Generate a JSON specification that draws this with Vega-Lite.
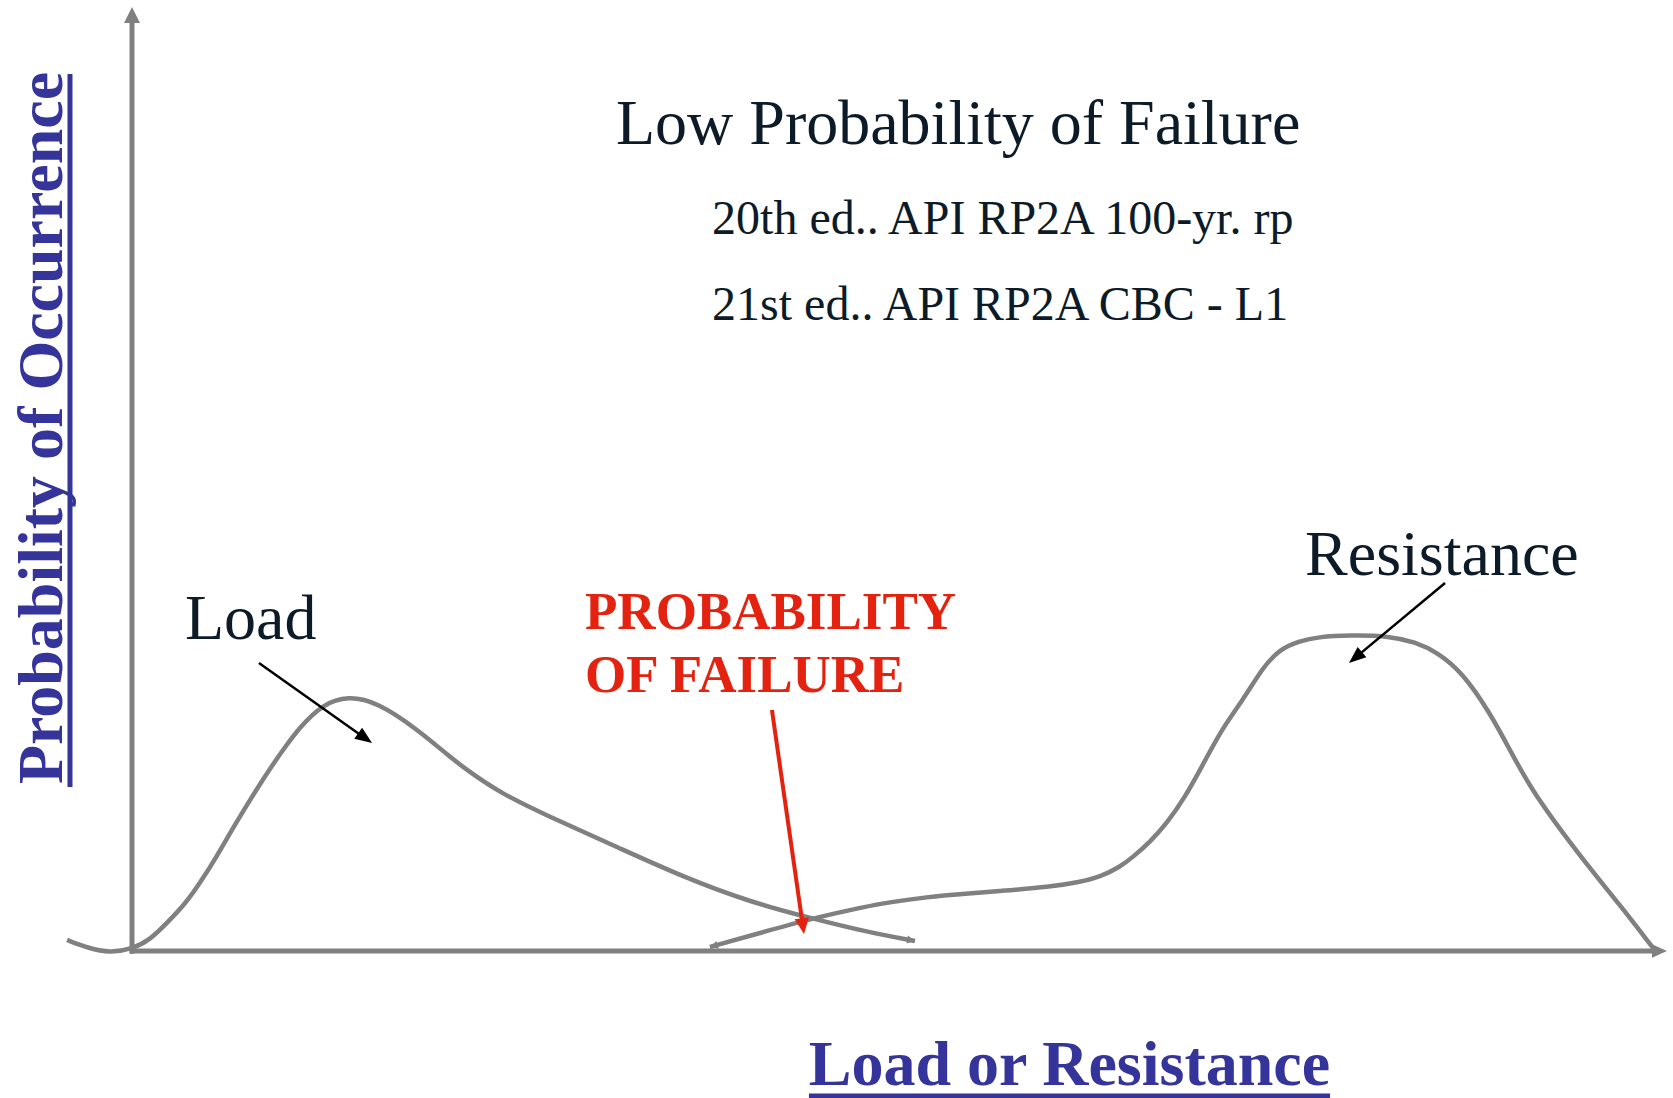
{
  "$schema": "https://vega.github.io/schema/vega-lite/v6.json",
  "width": 1535,
  "height": 944,
  "padding": {"left": 132, "top": 7, "right": 6, "bottom": 147},
  "autosize": {"type": "none"},
  "background": "white",
  "config": {"view": {"stroke": null}},
  "datasets": {
    "load": [
      {"x": -4.23, "y": 1.17}, {"x": -2.87, "y": 0.32}, {"x": -1.43, "y": -0.21}, {"x": 0, "y": 0.21},
      {"x": 1.17, "y": 1.17}, {"x": 2.28, "y": 2.97}, {"x": 3.45, "y": 4.96}, {"x": 4.43, "y": 7.2},
      {"x": 5.54, "y": 10.07}, {"x": 6.58, "y": 13.04}, {"x": 7.69, "y": 16.0}, {"x": 8.79, "y": 18.86},
      {"x": 9.97, "y": 21.6}, {"x": 10.94, "y": 23.73}, {"x": 12.44, "y": 26.16}, {"x": 14.07, "y": 27.01},
      {"x": 15.96, "y": 26.37}, {"x": 18.57, "y": 23.51}, {"x": 20.72, "y": 20.55}, {"x": 21.82, "y": 19.17},
      {"x": 23.97, "y": 16.74}, {"x": 27.23, "y": 14.19}, {"x": 31.6, "y": 11.02}, {"x": 35.9, "y": 7.84},
      {"x": 40.26, "y": 5.19}, {"x": 44.17, "y": 3.5}, {"x": 47.88, "y": 2.01}, {"x": 51.01, "y": 1.06}
    ],
    "resistance": [
      {"x": 37.65, "y": 0.42}, {"x": 40.91, "y": 1.91}, {"x": 44.17, "y": 3.39}, {"x": 46.78, "y": 4.34},
      {"x": 48.93, "y": 5.08}, {"x": 51.34, "y": 5.61}, {"x": 53.29, "y": 5.93}, {"x": 56.55, "y": 6.36},
      {"x": 59.8, "y": 6.78}, {"x": 61.76, "y": 7.31}, {"x": 63.06, "y": 7.84}, {"x": 64.36, "y": 8.9},
      {"x": 65.21, "y": 9.96}, {"x": 66.32, "y": 11.55}, {"x": 67.43, "y": 13.56}, {"x": 68.6, "y": 16.31},
      {"x": 69.58, "y": 19.17}, {"x": 71.07, "y": 23.73}, {"x": 72.38, "y": 26.59}, {"x": 73.68, "y": 30.08},
      {"x": 74.79, "y": 31.99}, {"x": 76.09, "y": 32.83}, {"x": 77.2, "y": 33.26}, {"x": 79.35, "y": 33.47},
      {"x": 81.95, "y": 33.36}, {"x": 83.58, "y": 32.73}, {"x": 85.02, "y": 31.67}, {"x": 86.71, "y": 29.45},
      {"x": 88.47, "y": 25.21}, {"x": 89.77, "y": 21.29}, {"x": 91.27, "y": 16.74}, {"x": 94.53, "y": 9.64},
      {"x": 96.94, "y": 4.87}, {"x": 99.09, "y": 0.32}
    ],
    "axes": [
      {"axis": "y", "x": 0, "y": -0.3, "x2": 0, "y2": 98.5},
      {"axis": "x", "x": -0.15, "y": 0, "x2": 99.1, "y2": 0}
    ],
    "shafts": [
      {"name": "load", "x": 8.27, "y": 30.51, "x2": 15.21, "y2": 22.52},
      {"name": "resistance", "x": 85.54, "y": 38.98, "x2": 79.68, "y2": 31.05}
    ],
    "redshaft": [
      {"name": "failure", "x": 41.69, "y": 25.53, "x2": 43.67, "y2": 3.06}
    ],
    "tips": [
      {"name": "yaxis", "x": 0, "y": 100},
      {"name": "xaxis", "x": 100, "y": 0},
      {"name": "loadarrow", "x": 15.64, "y": 22.03},
      {"name": "resarrow", "x": 79.28, "y": 30.51},
      {"name": "failarrow", "x": 43.78, "y": 1.8},
      {"name": "loadend", "x": 51.01, "y": 1.06},
      {"name": "resstart", "x": 37.65, "y": 0.42}
    ],
    "labels": [
      {"role": "title", "text": "Low Probability of Failure", "x": 31.53, "y": 85.49},
      {"role": "sub", "text": "20th ed.. API RP2A 100-yr. rp", "x": 37.79, "y": 75.95},
      {"role": "sub", "text": "21st ed.. API RP2A CBC - L1", "x": 37.79, "y": 66.84},
      {"role": "curve", "text": "Load", "x": 3.45, "y": 33.05},
      {"role": "curve", "text": "Resistance", "x": 76.42, "y": 39.83},
      {"role": "red", "text": "PROBABILITY", "x": 29.51, "y": 34.11},
      {"role": "red", "text": "OF FAILURE", "x": 29.51, "y": 27.44},
      {"role": "xtitle", "text": "Load or Resistance", "x": 61.07, "y": -14.19},
      {"role": "ytitle", "text": "Probability of Occurrence", "x": -4.56, "y": 55.4}
    ],
    "underlines": [
      {"name": "x", "x": 44.1, "y": -15.36, "x2": 78.05, "y2": -15.36},
      {"name": "y", "x": -4.04, "y": 17.37, "x2": -4.04, "y2": 92.9}
    ]
  },
  "encoding": {
    "x": {"field": "x", "type": "quantitative", "scale": {"domain": [0, 100], "nice": false, "zero": false}, "axis": null},
    "y": {"field": "y", "type": "quantitative", "scale": {"domain": [0, 100], "nice": false, "zero": false}, "axis": null}
  },
  "layer": [
    {
      "data": {"name": "axes"},
      "mark": {"type": "rule", "color": "#808080", "strokeWidth": 5},
      "encoding": {"x2": {"field": "x2"}, "y2": {"field": "y2"}}
    },
    {
      "data": {"name": "load"},
      "mark": {"type": "line", "color": "#808080", "strokeWidth": 4.5, "interpolate": "basis"},
      "encoding": {}
    },
    {
      "data": {"name": "resistance"},
      "mark": {"type": "line", "color": "#808080", "strokeWidth": 4.5, "interpolate": "basis"},
      "encoding": {}
    },
    {
      "data": {"name": "shafts"},
      "mark": {"type": "rule", "color": "#000000", "strokeWidth": 2.5},
      "encoding": {"x2": {"field": "x2"}, "y2": {"field": "y2"}}
    },
    {
      "data": {"name": "redshaft"},
      "mark": {"type": "rule", "color": "#e3230f", "strokeWidth": 4},
      "encoding": {"x2": {"field": "x2"}, "y2": {"field": "y2"}}
    },
    {
      "data": {"name": "tips"},
      "transform": [{"filter": "datum.name === 'yaxis'"}],
      "mark": {"type": "point", "filled": true, "opacity": 1, "color": "#808080", "strokeWidth": 0, "shape": "M0,0L-0.5,1L0.5,1Z", "size": 1024, "angle": 0}
    },
    {
      "data": {"name": "tips"},
      "transform": [{"filter": "datum.name === 'xaxis'"}],
      "mark": {"type": "point", "filled": true, "opacity": 1, "color": "#808080", "strokeWidth": 0, "shape": "M0,0L-0.45,1L0.45,1Z", "size": 900, "angle": 90}
    },
    {
      "data": {"name": "tips"},
      "transform": [{"filter": "datum.name === 'loadarrow'"}],
      "mark": {"type": "point", "filled": true, "opacity": 1, "color": "#000000", "strokeWidth": 0, "shape": "M0,0L-0.4,1L0.4,1Z", "size": 1156, "angle": 125.3}
    },
    {
      "data": {"name": "tips"},
      "transform": [{"filter": "datum.name === 'resarrow'"}],
      "mark": {"type": "point", "filled": true, "opacity": 1, "color": "#000000", "strokeWidth": 0, "shape": "M0,0L-0.4,1L0.4,1Z", "size": 1156, "angle": 230.2}
    },
    {
      "data": {"name": "tips"},
      "transform": [{"filter": "datum.name === 'failarrow'"}],
      "mark": {"type": "point", "filled": true, "opacity": 1, "color": "#e3230f", "strokeWidth": 0, "shape": "M0,0L-0.45,1L0.45,1Z", "size": 1024, "angle": 171.9}
    },
    {
      "data": {"name": "tips"},
      "transform": [{"filter": "datum.name === 'loadend'"}],
      "mark": {"type": "point", "filled": true, "opacity": 1, "color": "#808080", "strokeWidth": 0, "shape": "M0,0L-0.5,1L0.5,1Z", "size": 256, "angle": 100.6}
    },
    {
      "data": {"name": "tips"},
      "transform": [{"filter": "datum.name === 'resstart'"}],
      "mark": {"type": "point", "filled": true, "opacity": 1, "color": "#808080", "strokeWidth": 0, "shape": "M0,0L-0.5,1L0.5,1Z", "size": 256, "angle": 254.3}
    },
    {
      "data": {"name": "underlines"},
      "mark": {"type": "rule", "color": "#35349b", "strokeWidth": 5},
      "encoding": {"x2": {"field": "x2"}, "y2": {"field": "y2"}}
    },
    {
      "data": {"name": "labels"},
      "transform": [{"filter": "datum.role === 'title'"}],
      "mark": {"type": "text", "font": "Liberation Serif", "fontSize": 64, "color": "#0c1b27", "align": "left", "baseline": "alphabetic"},
      "encoding": {"text": {"field": "text"}}
    },
    {
      "data": {"name": "labels"},
      "transform": [{"filter": "datum.role === 'sub'"}],
      "mark": {"type": "text", "font": "Liberation Serif", "fontSize": 48, "color": "#0c1b27", "align": "left", "baseline": "alphabetic"},
      "encoding": {"text": {"field": "text"}}
    },
    {
      "data": {"name": "labels"},
      "transform": [{"filter": "datum.role === 'curve'"}],
      "mark": {"type": "text", "font": "Liberation Serif", "fontSize": 64, "color": "#0c1b27", "align": "left", "baseline": "alphabetic"},
      "encoding": {"text": {"field": "text"}}
    },
    {
      "data": {"name": "labels"},
      "transform": [{"filter": "datum.role === 'red'"}],
      "mark": {"type": "text", "font": "Liberation Serif", "fontSize": 53, "fontWeight": "bold", "color": "#e3230f", "align": "left", "baseline": "alphabetic"},
      "encoding": {"text": {"field": "text"}}
    },
    {
      "data": {"name": "labels"},
      "transform": [{"filter": "datum.role === 'xtitle'"}],
      "mark": {"type": "text", "font": "Liberation Serif", "fontSize": 64, "fontWeight": "bold", "color": "#35349b", "align": "center", "baseline": "alphabetic"},
      "encoding": {"text": {"field": "text"}}
    },
    {
      "data": {"name": "labels"},
      "transform": [{"filter": "datum.role === 'ytitle'"}],
      "mark": {"type": "text", "font": "Liberation Serif", "fontSize": 64, "fontWeight": "bold", "color": "#35349b", "align": "center", "baseline": "alphabetic", "angle": 270},
      "encoding": {"text": {"field": "text"}}
    }
  ]
}
